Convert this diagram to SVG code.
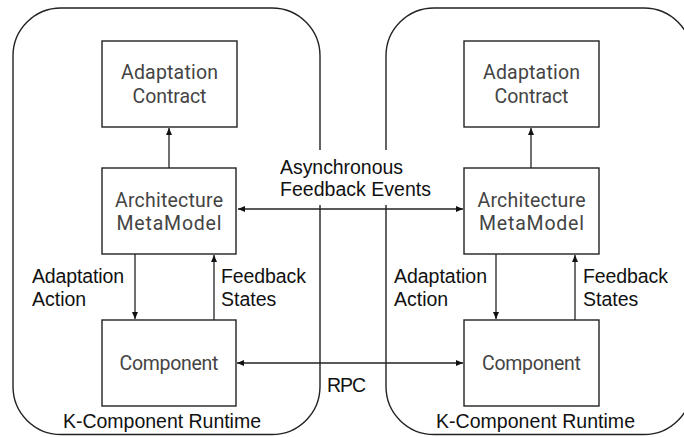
<svg xmlns="http://www.w3.org/2000/svg" width="684" height="437" viewBox="0 0 684 437">
<style>
.bg{fill:#fff}
.cont{fill:none;stroke:#222;stroke-width:1.4}
.box{fill:#fff;stroke:#222;stroke-width:1.4}
.bt{font-family:Roboto,"Noto Sans",sans-serif;font-size:19.5px;fill:#444;text-anchor:middle}
.lb{font-family:"Liberation Sans",Arial,sans-serif;font-size:19.5px;fill:#111}
.ln{fill:none;stroke:#222;stroke-width:1.3}
</style>
<defs>
<marker id="ah" markerUnits="userSpaceOnUse" markerWidth="9" markerHeight="7" refX="7" refY="3" orient="auto-start-reverse">
<path d="M0,0 L7,3 L0,6 z" fill="#111"/>
</marker>
</defs>
<rect class="bg" x="0" y="0" width="684" height="437"/>
<g id="runtime-left">
<rect class="cont" x="13" y="8" width="307" height="426.5" rx="48" ry="48"/>
<text class="lb" x="63" y="428" textLength="198">K-Component Runtime</text>
</g>
<g id="runtime-right">
<rect class="cont" x="386" y="8" width="306" height="426.5" rx="48" ry="48"/>
<text class="lb" x="436" y="428" textLength="199">K-Component Runtime</text>
</g>
<g id="connectors">
<line class="ln" x1="169" y1="168" x2="169" y2="128" marker-end="url(#ah)"/>
<line class="ln" x1="135" y1="254" x2="135" y2="319" marker-end="url(#ah)"/>
<line class="ln" x1="214" y1="320" x2="214" y2="255" marker-end="url(#ah)"/>
<line class="ln" x1="531" y1="168" x2="531" y2="128" marker-end="url(#ah)"/>
<line class="ln" x1="496" y1="254" x2="496" y2="319" marker-end="url(#ah)"/>
<line class="ln" x1="575" y1="320" x2="575" y2="255" marker-end="url(#ah)"/>
<rect class="bg" x="272" y="150" width="164" height="55"/>
<line class="ln" x1="238" y1="209" x2="463" y2="209" marker-start="url(#ah)" marker-end="url(#ah)"/>
<line class="ln" x1="237" y1="363" x2="463" y2="363" marker-start="url(#ah)" marker-end="url(#ah)"/>
<text class="lb" x="280" y="174" textLength="123">Asynchronous</text>
<text class="lb" x="280" y="196" textLength="151">Feedback Events</text>
<text class="lb" x="327" y="392" textLength="39">RPC</text>
<text class="lb" x="32" y="283" textLength="92">Adaptation</text>
<text class="lb" x="32" y="306">Action</text>
<text class="lb" x="221" y="283" textLength="85">Feedback</text>
<text class="lb" x="221" y="306">States</text>
<text class="lb" x="394" y="283" textLength="93">Adaptation</text>
<text class="lb" x="394" y="306">Action</text>
<text class="lb" x="583" y="283" textLength="85">Feedback</text>
<text class="lb" x="583" y="306">States</text>
</g>
<g id="contract-left">
<rect class="box" x="102" y="41" width="135" height="86"/>
<text class="bt" x="169.5" y="79" textLength="97">Adaptation</text>
<text class="bt" x="169.5" y="103" textLength="74">Contract</text>
</g>
<g id="meta-left">
<rect class="box" x="102" y="168" width="134" height="86"/>
<text class="bt" x="169" y="207" textLength="108">Architecture</text>
<text class="bt" x="169" y="230" textLength="105">MetaModel</text>
</g>
<g id="component-left">
<rect class="box" x="102" y="320" width="134" height="86"/>
<text class="bt" x="169" y="370" textLength="99">Component</text>
</g>
<g id="contract-right">
<rect class="box" x="464" y="41" width="135" height="86"/>
<text class="bt" x="531.5" y="79" textLength="97">Adaptation</text>
<text class="bt" x="531.5" y="103" textLength="74">Contract</text>
</g>
<g id="meta-right">
<rect class="box" x="464" y="168" width="135" height="86"/>
<text class="bt" x="531.5" y="207" textLength="108">Architecture</text>
<text class="bt" x="531.5" y="230" textLength="105">MetaModel</text>
</g>
<g id="component-right">
<rect class="box" x="464" y="320" width="135" height="86"/>
<text class="bt" x="531.5" y="370" textLength="99">Component</text>
</g>
</svg>
